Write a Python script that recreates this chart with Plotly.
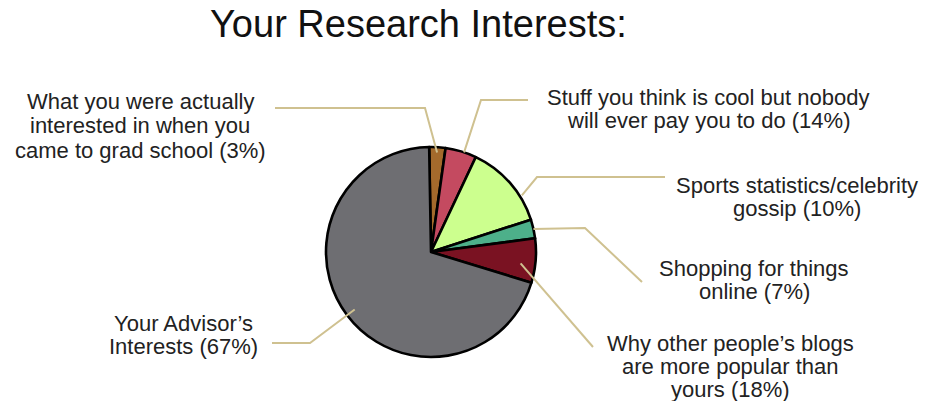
import math
import plotly.graph_objects as go

# ---- data ----
categories = [
    "What you were actually interested in when you came to grad school",
    "Stuff you think is cool but nobody will ever pay you to do",
    "Sports statistics/celebrity gossip",
    "Shopping for things online",
    "Why other people's blogs are more popular than yours",
    "Your Advisor's Interests",
]
slice_values = [2.5, 4.8, 13.0, 2.9, 6.8, 70.0]   # slice sizes as drawn
label_lines = [
    ["What you were actually", "interested in when you", "came to grad school (3%)"],
    ["Stuff you think is cool but nobody", "will ever pay you to do (14%)"],
    ["Sports statistics/celebrity", "gossip (10%)"],
    ["Shopping for things", "online (7%)"],
    ["Why other people\u2019s blogs", "are more popular than", "yours (18%)"],
    ["Your Advisor\u2019s", "Interests (67%)"],
]
title_text = "Your Research Interests:"

# ---- style / layout ----
W, H = 927, 401
colors = ["#A46A2C", "#C44A60", "#CCFF8E", "#4DB08A", "#7A1222", "#6E6E72"]
CX, CY, R = 431, 252, 105
rotation = -1
line_color = "#CFC190"
text_color = "#222222"
FONT = "Liberation Sans, Arial, sans-serif"

# label centre positions (px) of first line, and per-label line spacing
label_pos = [(140, 102), (708, 97), (797, 185), (754, 268), (730, 343), (183, 323)]
line_gaps = [24, 23, 23, 23, 23, 23]
# leader geometry: anchor position within slice (fraction), radius factor, path points
anchor_frac = [0.5, 0.6, 0.7, 0.5, 0.6, 0.5]
anchor_rad = [0.95, 1.0, 1.02, 1.0, 0.86, 0.91]
leader_outer = [
    [(275, 108), (425, 108)],
    [(528, 100), (481, 100)],
    [(665, 177), (537, 177)],
    [(642, 282), (585, 228)],
    [(593, 347)],
    [(272, 343), (310, 343)],
]


def px(x, y):
    return x / W, 1 - y / H


fig = go.Figure()
dx0, dy0 = px(CX - R, CY + R)
dx1, dy1 = px(CX + R, CY - R)
fig.add_trace(go.Pie(
    labels=categories,
    values=slice_values,
    sort=False,
    direction="clockwise",
    rotation=rotation,
    textinfo="none",
    hoverinfo="label",
    marker=dict(colors=colors, line=dict(color="#000000", width=2.6)),
    domain=dict(x=[dx0, dx1], y=[dy0, dy1]),
    showlegend=False,
))

# leader lines, anchored on the slices computed from the data
total = sum(slice_values)
shapes = []
start = rotation
for i, v in enumerate(slice_values):
    span = 360 * v / total
    ang = math.radians(start + span * anchor_frac[i])
    start += span
    ax = CX + R * anchor_rad[i] * math.sin(ang)
    ay = CY - R * anchor_rad[i] * math.cos(ang)
    pts = leader_outer[i] + [(ax, ay)]
    path = "M " + " L ".join(f"{px(x, y)[0]:.5f},{px(x, y)[1]:.5f}" for x, y in pts)
    shapes.append(dict(type="path", path=path, xref="paper", yref="paper",
                       line=dict(color=line_color, width=2), layer="above"))

annotations = []
for (lx, ly), gap, lines in zip(label_pos, line_gaps, label_lines):
    for k, t in enumerate(lines):
        x, y = px(lx, ly + k * gap)
        annotations.append(dict(text=t, x=x, y=y, xref="paper", yref="paper",
                                xanchor="center", yanchor="middle", showarrow=False,
                                font=dict(family=FONT, size=22, color=text_color)))
tx, ty = px(418, 24)
annotations.append(dict(text=title_text, x=tx, y=ty, xref="paper", yref="paper",
                        xanchor="center", yanchor="middle", showarrow=False,
                        font=dict(family=FONT, size=38, color="#111111")))

fig.update_layout(
    width=W, height=H,
    margin=dict(l=0, r=0, t=0, b=0),
    paper_bgcolor="white", plot_bgcolor="white",
    shapes=shapes, annotations=annotations,
)
fig.write_html(
    "out.html",
    config={"displayModeBar": False},
    post_script="document.body.style.margin='0';document.body.style.overflow='hidden';",
)
